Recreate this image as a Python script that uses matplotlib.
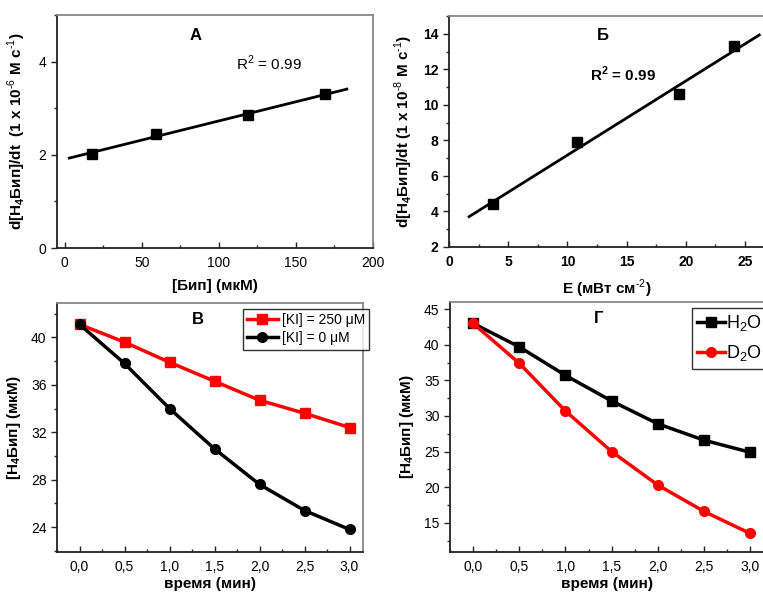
import numpy as np
import matplotlib
matplotlib.use("Agg")
import matplotlib.pyplot as plt
from matplotlib.ticker import MultipleLocator, AutoMinorLocator

plt.rcParams['font.family'] = ['Liberation Sans', 'DejaVu Sans']
plt.rcParams['mathtext.fontset'] = 'custom'
plt.rcParams['mathtext.rm'] = 'Liberation Sans'
plt.rcParams['mathtext.bf'] = 'Liberation Sans:bold'

# ---- Data ----
# Panel A
biP_conc = [18, 59, 119, 169]
rate_A = [2.02, 2.45, 2.85, 3.30]
fit_range_A = [3, 183]
# Panel Б
irradiance = [3.7, 10.8, 19.4, 24.1]
rate_B = [4.4, 7.9, 10.6, 13.3]
fit_range_B = [1.7, 26.2]
# Panel В
time_min = [0.0, 0.5, 1.0, 1.5, 2.0, 2.5, 3.0]
ki_250 = [41.1, 39.6, 37.9, 36.3, 34.7, 33.6, 32.4]
ki_0 = [41.1, 37.8, 34.0, 30.6, 27.6, 25.4, 23.8]
# Panel Г
h2o = [43.0, 39.7, 35.7, 32.1, 28.9, 26.6, 24.9]
d2o = [43.0, 37.4, 30.7, 25.0, 20.3, 16.6, 13.5]
time_ticks = ['0,0', '0,5', '1,0', '1,5', '2,0', '2,5', '3,0']

W, H = 763, 596
fig = plt.figure(figsize=(W / 100, H / 100), dpi=100)

def ax_px(l, r, t, b):
    return fig.add_axes([l / W, (H - b) / H, (r - l) / W, (b - t) / H])

axA = ax_px(57, 373, 15, 248)
axB = ax_px(449, 764, 16, 247)
axC = ax_px(57, 363, 303, 552)
axD = ax_px(450, 764, 302, 552)

def style(ax):
    for s in ['left', 'bottom']:
        ax.spines[s].set_color('#222222')
        ax.spines[s].set_linewidth(1.3)
    for s in ['top', 'right']:
        ax.spines[s].set_color('#888888')
        ax.spines[s].set_linewidth(1.3)
    ax.tick_params(axis='y', which='both', direction='out', labelsize=10, color='#222222')
    ax.tick_params(axis='x', which='both', direction='in', labelsize=10, color='#222222', pad=6)
    ax.tick_params(which='major', length=4, width=1)
    ax.tick_params(which='minor', length=2.5, width=1)
    ax.xaxis.set_minor_locator(AutoMinorLocator(2))
    ax.yaxis.set_minor_locator(AutoMinorLocator(2))

lab_kw = dict(fontsize=11, fontweight='bold')

# Panel A
style(axA)
pA = np.polyfit(biP_conc, rate_A, 1)
xA = np.array(fit_range_A)
axA.plot(xA, np.polyval(pA, xA), color='black', lw=2)
axA.plot(biP_conc, rate_A, 's', color='black', ms=7)
axA.set_xlim(-5, 200)
axA.set_ylim(0, 5)
axA.xaxis.set_major_locator(MultipleLocator(50))
axA.yaxis.set_major_locator(MultipleLocator(2))
axA.set_xlabel('[Бип] (мкМ)', labelpad=6, **lab_kw)
axA.set_ylabel(r'd[H$_\mathbf{4}$Бип]/dt  (1 x 10$^{\text{-6}}$ M c$^{\text{-1}}$)', labelpad=8, **lab_kw)
axA.text(85, 4.57, 'А', fontsize=12, fontweight='bold', ha='center', va='center')
axA.text(111, 3.96, r'R$^2$ = 0.99', fontsize=11, ha='left', va='center')

# Panel Б
style(axB)
pB = np.polyfit(irradiance, rate_B, 1)
xB = np.array(fit_range_B)
axB.plot(xB, np.polyval(pB, xB), color='black', lw=2)
axB.plot(irradiance, rate_B, 's', color='black', ms=7)
axB.set_xlim(0, 26.6)
axB.set_ylim(2, 15)
axB.xaxis.set_major_locator(MultipleLocator(5))
axB.yaxis.set_major_locator(MultipleLocator(2))
for t in axB.get_xticklabels() + axB.get_yticklabels():
    t.set_fontweight('bold')
axB.set_xlabel(r'E (мВт см$^{\text{-2}}$)', labelpad=6, **lab_kw)
axB.set_ylabel(r'd[H$_\mathbf{4}$Бип]/dt (1 x 10$^{\text{-8}}$ M c$^{\text{-1}}$)', labelpad=6, **lab_kw)
axB.text(13.0, 13.9, 'Б', fontsize=12, fontweight='bold', ha='center', va='center')
axB.text(11.9, 11.7, r'R$^\mathbf{2}$ = 0.99', fontsize=11, fontweight='bold', ha='left', va='center')

# Panel В
style(axC)
axC.plot(time_min, ki_250, '-s', color='red', lw=2.5, ms=7, label='[KI] = 250 μM')
axC.plot(time_min, ki_0, '-o', color='black', lw=2.5, ms=7, label='[KI] = 0 μM')
axC.set_xlim(-0.25, 3.15)
axC.set_ylim(21.9, 42.9)
axC.set_xticks(time_min)
axC.set_xticklabels(time_ticks)
axC.yaxis.set_major_locator(MultipleLocator(4))
axC.set_xlabel('время (мин)', labelpad=2, **lab_kw)
axC.set_ylabel(r'[H$_\mathbf{4}$Бип] (мкМ)', labelpad=6, **lab_kw)
axC.text(1.32, 41.5, 'В', fontsize=12, fontweight='bold', ha='center', va='center')
legC = axC.legend(loc='upper left', bbox_to_anchor=((243 - 57) / 306, 1 - (309 - 303) / 249),
                  fontsize=10, frameon=True, fancybox=False, edgecolor='black',
                  borderpad=0.3, handlelength=2.2, handletextpad=0.3, labelspacing=0.3,
                  borderaxespad=0)
legC.get_frame().set_linewidth(1)

# Panel Г
style(axD)
axD.plot(time_min, h2o, '-s', color='black', lw=2.5, ms=7, label=r'H$_2$O')
axD.plot(time_min, d2o, '-o', color='red', lw=2.5, ms=7, label=r'D$_2$O')
axD.set_xlim(-0.25, 3.15)
axD.set_ylim(10.9, 46)
axD.set_xticks(time_min)
axD.set_xticklabels(time_ticks)
axD.yaxis.set_major_locator(MultipleLocator(5))
axD.set_xlabel('время (мин)', labelpad=2, **lab_kw)
axD.set_ylabel(r'[H$_\mathbf{4}$Бип] (мкМ)', labelpad=6, **lab_kw)
axD.text(1.36, 43.7, 'Г', fontsize=12, fontweight='bold', ha='center', va='center')
legD = axD.legend(loc='upper left', bbox_to_anchor=((692 - 450) / 314, 1 - (308 - 302) / 250),
                  fontsize=13, frameon=True, fancybox=False, edgecolor='black',
                  borderpad=0.3, handlelength=1.5, handletextpad=0.1, labelspacing=0.55,
                  borderaxespad=0)
legD._legend_box.align = 'left'
legD.get_frame().set_linewidth(1)
# tighten the left padding so the handle starts near the frame edge
legD._legend_handle_box.sep = 0

fig.savefig('out.png', dpi=100)
